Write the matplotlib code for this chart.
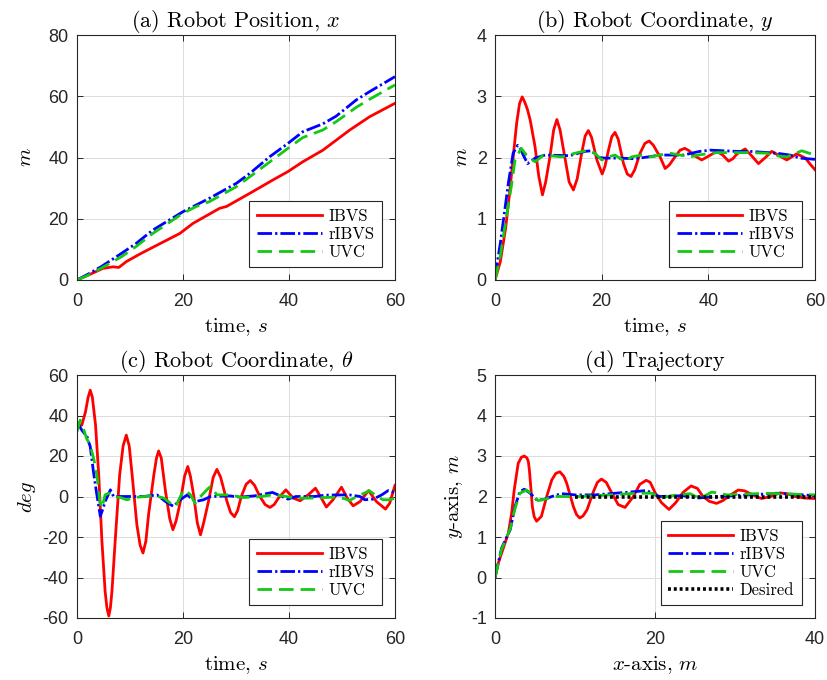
import matplotlib
matplotlib.use("Agg")
import matplotlib.pyplot as plt

# ---------------- data ----------------
# (a) robot position x [m] vs time [s]
t_a_ibvs = [0, 2.4, 4.9, 6.8, 7.9, 9.3, 12.1, 14.0, 19.4, 21.9, 26.9, 28.2, 32.6, 37.0, 39.8, 42.6, 46.4, 51.4, 55.2, 60]
x_ibvs = [0, 1.8, 3.8, 4.3, 4.1, 6.0, 8.7, 10.4, 15.2, 18.5, 23.4, 24.0, 28.3, 32.7, 35.4, 38.6, 42.4, 48.9, 53.3, 57.7]
t_a_ribvs = [0, 2.4, 4.6, 8.4, 11.2, 14.3, 20, 22.5, 25, 30.1, 32.6, 36.4, 39.8, 42.6, 46.4, 48.9, 52.7, 55.2, 60]
x_ribvs = [0, 2.2, 4.4, 8.7, 12.0, 16.3, 22.3, 24.5, 26.7, 31.6, 34.8, 40.3, 44.6, 48.4, 51.0, 53.5, 58.8, 61.5, 66.4]
t_a_uvc = [0, 2.4, 4.6, 8.4, 11.2, 14.3, 20, 22.5, 25, 30.1, 32.6, 36.4, 39.8, 42.6, 46.4, 48.9, 52.7, 55.2, 60]
x_uvc = [0, 1.8, 3.9, 7.6, 11.0, 15.2, 21.8, 24.0, 25.6, 30.5, 33.7, 38.6, 43.0, 46.5, 49.0, 51.7, 56.4, 59.0, 63.7]

# (b) robot coordinate y [m] vs time [s]
t_b_ibvs = [0, 1, 2, 2.8, 3.4, 4.06, 4.6, 5.1, 5.6, 6.1, 6.6, 7.5, 8.2, 8.9, 9.5, 10.3, 11.0, 11.6, 12.2,
            13.1, 13.9, 14.7, 15.4, 16.25, 16.9, 17.5, 18.1, 19.1, 20.1, 20.6, 21.25, 21.9, 22.5, 23.1,
            24.1, 24.8, 25.5, 26.2, 27.2, 28.1, 28.9, 29.7, 31.0, 31.9, 32.7, 33.75, 34.7, 35.6, 36.4,
            37.2, 38.75, 40.2, 41.6, 42.7, 43.8, 44.6, 45.4, 46.9, 48.2, 49.4, 50.7, 51.9, 53.3, 54.7,
            56.6, 58.2, 59.2, 60]
y_ibvs = [0, 0.3, 0.85, 1.47, 2.0, 2.56, 2.88, 2.99, 2.9, 2.78, 2.61, 2.18, 1.7, 1.39, 1.6, 2.01, 2.45, 2.62, 2.45,
          2.0, 1.6, 1.47, 1.65, 2.07, 2.35, 2.44, 2.33, 1.96, 1.73, 1.85, 2.11, 2.34, 2.41, 2.3,
          1.9, 1.73, 1.69, 1.8, 2.07, 2.23, 2.27, 2.2, 2.0, 1.82, 1.88, 2.01, 2.12, 2.15, 2.11,
          2.04, 1.96, 2.03, 2.1, 2.04, 1.94, 1.98, 2.06, 2.14, 2.02, 1.9, 2.0, 2.1, 2.03, 1.96,
          2.06, 1.99, 1.88, 1.80]
t_b_ribvs = [0, 1, 2, 2.5, 3.4, 4.25, 4.8, 5.3, 6.1, 6.8, 7.5, 9.4, 14, 16.9, 18.1, 19.4, 20.6, 23.1, 26.25,
             28.75, 31, 35.3, 38.4, 40.3, 45.3, 47.8, 52.8, 55.3, 57.2, 60]
y_ribvs = [0.05, 0.6, 1.25, 1.58, 2.07, 2.2, 2.14, 2.04, 1.9, 1.94, 1.99, 2.04, 2.03, 2.1, 2.11, 2.0, 1.99, 1.99, 1.98,
           2.01, 2.04, 2.04, 2.1, 2.12, 2.1, 2.1, 2.07, 2.04, 1.99, 1.97]
t_b_uvc = [0, 1, 2, 3.1, 3.75, 4.9, 5.9, 7.5, 9.1, 12.5, 15, 17.5, 18.75, 20, 21.25, 22.5, 24.4, 25.6, 27.5,
           29.1, 32.8, 36.6, 38.1, 41.6, 47.8, 50.9, 52.8, 54.7, 57.5, 60]
y_uvc = [0, 0.4, 0.95, 1.55, 1.96, 2.15, 2.04, 1.93, 2.04, 2.01, 2.07, 2.12, 2.07, 1.96, 2.01, 2.04, 1.93, 2.01, 2.04,
         2.01, 2.07, 2.01, 2.04, 2.08, 2.08, 2.07, 2.03, 2.01, 2.11, 2.04]

# (c) robot heading theta [deg] vs time [s]
t_c_ibvs = [0, 0.9, 1.6, 2.1, 2.5, 2.9, 3.5, 4.1, 4.7, 5.3, 5.65, 6.0, 6.3, 6.6, 7.2, 8.05, 8.7, 9.3, 9.85,
            10.4, 11.3, 11.9, 12.45, 13.0, 13.5, 14.5, 15.0, 15.4, 15.9, 16.7, 17.5, 18.1, 18.7, 19.5,
            20.3, 20.9, 21.4, 22.0, 22.7, 23.3, 23.9, 24.8, 25.7, 26.4, 27.1, 28.3, 29.0, 29.7, 30.3,
            31.0, 31.9, 32.7, 33.5, 34.5, 35.5, 36.4, 37.2, 38.0, 39.4, 40.8, 42.1, 43.6, 45.0, 46.1,
            47.05, 48.3, 49.9, 51.0, 52.1, 53.4, 55.0, 56.5, 58.2, 59.0, 60]
th_ibvs = [35.2, 35.2, 41.8, 49, 52.5, 49, 35.2, 10.7, -22, -46.7, -55, -59, -55, -46.7, -22, 10.7, 25, 30.3, 25,
           10.7, -14, -24, -27.9, -22, -9, 10.7, 19, 22.5, 19, 2.5, -11, -16.4, -12, -2.5,
           10, 14.8, 10, 0.8, -13, -18.9, -13, -2.5, 9.5, 13.4, 9.5, -2.5, -8, -10, -7,
           0, 6, 7.9, 5.5, 0, -4, -5.4, -4, -0.8, 3.3, -0.8, -2.1, 0.8, 4.1, -0.8,
           -5.2, -1.6, 4.6, -0.8, -4.6, -2.5, 2.9, -2.5, -6.2, -3.3, 5.5]
t_c_ribvs = [0, 0.9, 1.9, 2.5, 3.1, 3.65, 4.4, 4.9, 5.3, 6.3, 6.9, 8.2, 12.6, 15.1, 16.7, 18.2, 19.5, 20.8,
             22.3, 23.9, 25.2, 28.8, 30.7, 33.5, 36.9, 39.8, 41.3, 44.8, 47, 51.4, 53.4, 54.3, 55.9,
             57.5, 58.7, 60]
th_ribvs = [36.9, 32.8, 29.5, 24.6, 12.3, 2.5, -9.8, -6, -2.5, 3.3, 0, 0, 0, 0.8, -2.5, -4.9, -1.6, 0.8,
            -2.5, -1.6, 0, 0.3, -0.3, 0.3, 2.0, -1.3, 0, 0, 0.7, 0.8, 0, -1.6, -1.3,
            0.8, 2.9, 2.0]
t_c_uvc = [0, 0.6, 1.3, 1.8, 2.5, 3.5, 3.9, 4.3, 4.7, 5.3, 6.0, 6.9, 8.2, 9.4, 11, 14.5, 16.4, 17.6, 18.6,
           19.8, 20.4, 21.4, 22.3, 23.3, 24.8, 25.2, 26.4, 28.8, 31.3, 33.8, 36.9, 38.8, 41.3, 43.8,
           47, 48.9, 50.5, 51.4, 53, 55.2, 56.5, 57.7, 59, 60]
th_uvc = [32, 37.7, 32.8, 28.7, 25.4, 14.8, 7.4, -2.5, -5.7, 0.8, 1.6, 0, -0.5, -1.6, -0.5, 0.5, -0.8, -3.3, -4.9,
          1.6, 3.3, 0.8, -3.3, 0, 4.1, 4.9, 0.8, 0.8, -0.5, -0.3, 0.8, 0.3, -0.8, -0.8,
          -0.5, -0.3, -1.1, -2.0, 0.3, 2.8, 0.3, -1.6, -1.6, -0.8]

# (d) trajectory in the plane: x-axis [m] vs y-axis [m]
px_ibvs = [0, 0.4, 0.83, 1.67, 2.08, 2.4, 2.9, 3.3, 3.67, 4.0, 4.17, 4.3, 4.4, 4.67, 4.9, 5.2, 5.8, 6.46, 7.1,
           7.6, 8.1, 8.6, 8.96, 9.8, 10.2, 10.6, 11.0, 11.5, 12.3, 12.8, 13.3, 13.9, 14.4, 15.4, 16.25,
           17.3, 18.1, 18.9, 19.4, 20.0, 20.8, 21.75, 22.6, 23.5, 24.5, 25.3, 26.0, 26.8, 27.7, 28.5,
           29.3, 30.4, 31.2, 32.3, 33.3, 34.5, 35.6, 36.5, 37.5, 38.8, 40]
py_ibvs = [0, 0.35, 0.6, 1.1, 1.59, 2.16, 2.82, 2.97, 3.0, 2.95, 2.86, 2.65, 2.41, 1.75, 1.5, 1.39, 1.51, 2.0, 2.41,
           2.57, 2.61, 2.5, 2.33, 1.75, 1.55, 1.47, 1.52, 1.67, 2.12, 2.35, 2.43, 2.35, 2.16, 1.8, 1.73,
           2.0, 2.3, 2.4, 2.35, 2.1, 1.85, 1.68, 1.85, 2.1, 2.26, 2.2, 2.0, 1.88, 1.83, 1.9,
           2.02, 2.16, 2.14, 2.03, 1.95, 2.0, 2.09, 2.07, 2.0, 1.96, 1.95]
px_ribvs = [0, 0.83, 1.9, 2.5, 3.1, 3.67, 4.4, 5.2, 6.0, 7.1, 8.3, 10, 12.5, 15, 17.5, 19, 20, 20.6, 23.5,
            25.2, 27.7, 31.9, 35.2, 40]
py_ribvs = [0, 0.73, 1.18, 1.75, 2.12, 2.18, 2.08, 1.92, 1.92, 2.0, 2.07, 2.04, 2.04, 2.08, 2.12, 2.15, 2.04, 2.0, 2.02,
            1.96, 2.0, 2.04, 2.08, 2.02]
px_uvc = [0, 0.83, 1.9, 2.5, 3.1, 3.96, 4.6, 5.4, 6.2, 7.3, 10.4, 14.6, 17.5, 19.6, 20, 20.6, 22.7, 24.4, 25.6,
          27.1, 29, 34, 40]
py_uvc = [0, 0.7, 1.2, 1.7, 2.08, 2.16, 2.05, 1.9, 1.93, 2.0, 2.0, 2.04, 2.08, 2.08, 2.04, 1.96, 2.04, 2.07, 1.95,
          2.11, 2.04, 2.08, 2.04]
px_desired = [10, 40]
py_desired = [2, 2]

# ---------------- style ----------------
plt.rcParams["mathtext.fontset"] = "cm"
plt.rcParams["axes.unicode_minus"] = False
plt.rcParams["lines.scale_dashes"] = False

RED = "#ff0000"
BLUE = "#0000ff"
GREEN = "#14c814"
LW = 2.0
STY = {
    "IBVS": dict(color=RED, lw=LW, ls="-"),
    "rIBVS": dict(color=BLUE, lw=LW, dashes=(10.5, 2.2, 1.6, 2.2)),
    "UVC": dict(color=GREEN, lw=LW, dashes=(10.5, 5.0)),
    "Desired": dict(color="black", lw=2.6, dashes=(2.1, 2.1)),
}

W, H = 827, 680
fig = plt.figure(figsize=(W / 100, H / 100), dpi=100)


def add_ax(l, t, r, b):
    return fig.add_axes([l / W, 1 - b / H, (r - l) / W, (b - t) / H])


def style(ax, xlim, xticks, ylim, yticks, title, xlabel, ylabel, ylabelpad):
    ax.set_xlim(*xlim)
    ax.set_ylim(*ylim)
    ax.set_xticks(xticks)
    ax.set_yticks(yticks)
    ax.grid(True, color="#dcdcdc", lw=0.7)
    ax.set_axisbelow(True)
    ax.tick_params(direction="in", top=True, right=True, length=4, width=0.7,
                   labelsize=13, colors="#262626")
    ax.tick_params(axis="x", pad=9)
    ax.tick_params(axis="y", pad=6)
    for lab in ax.get_xticklabels() + ax.get_yticklabels():
        lab.set_fontfamily("Liberation Sans")
    for s in ax.spines.values():
        s.set_color("#262626")
        s.set_linewidth(0.8)
    ax.set_title(title, fontfamily="cmr10", fontsize=16, pad=6)
    ax.set_xlabel(xlabel, fontfamily="cmr10", fontsize=15, labelpad=5)
    ax.set_ylabel(ylabel, fontfamily="cmr10", fontsize=15, labelpad=ylabelpad)


def legend(ax):
    leg = ax.legend(loc="lower right", bbox_to_anchor=(0.959, 0.053), borderaxespad=0,
                    prop={"family": "cmr10", "size": 12}, handlelength=3.9, handletextpad=0.4,
                    labelspacing=0.15, borderpad=0.45, fancybox=False, framealpha=1,
                    edgecolor="#262626")
    leg.get_frame().set_linewidth(0.8)


ax_a = add_ax(77, 35, 395, 280)
ax_b = add_ax(495, 35, 815, 280)
ax_c = add_ax(77, 375, 395, 618)
ax_d = add_ax(495, 375, 815, 618)

# (a)
ax_a.plot(t_a_ibvs, x_ibvs, label="IBVS", **STY["IBVS"])
ax_a.plot(t_a_ribvs, x_ribvs, label="rIBVS", **STY["rIBVS"])
ax_a.plot(t_a_uvc, x_uvc, label="UVC", **STY["UVC"])
style(ax_a, (0, 60), [0, 20, 40, 60], (0, 80), [0, 20, 40, 60, 80],
      "(a) Robot Position, $x$", "time, $s$", "$m$", 10)
legend(ax_a)

# (b)
ax_b.plot(t_b_ibvs, y_ibvs, label="IBVS", **STY["IBVS"])
ax_b.plot(t_b_ribvs, y_ribvs, label="rIBVS", **STY["rIBVS"])
ax_b.plot(t_b_uvc, y_uvc, label="UVC", **STY["UVC"])
style(ax_b, (0, 60), [0, 20, 40, 60], (0, 4), [0, 1, 2, 3, 4],
      "(b) Robot Coordinate, $y$", "time, $s$", "$m$", 4)
legend(ax_b)

# (c)
ax_c.plot(t_c_ibvs, th_ibvs, label="IBVS", **STY["IBVS"])
ax_c.plot(t_c_ribvs, th_ribvs, label="rIBVS", **STY["rIBVS"])
ax_c.plot(t_c_uvc, th_uvc, label="UVC", **STY["UVC"])
style(ax_c, (0, 60), [0, 20, 40, 60], (-60, 60), [-60, -40, -20, 0, 20, 40, 60],
      r"(c) Robot Coordinate, $\theta$", "time, $s$", "$deg$", 3)
legend(ax_c)

# (d)
ax_d.plot(px_ibvs, py_ibvs, label="IBVS", **STY["IBVS"])
ax_d.plot(px_ribvs, py_ribvs, label="rIBVS", **STY["rIBVS"])
ax_d.plot(px_uvc, py_uvc, label="UVC", **STY["UVC"])
ax_d.plot(px_desired, py_desired, label="Desired", **STY["Desired"])
style(ax_d, (0, 40), [0, 20, 40], (-1, 5), [-1, 0, 1, 2, 3, 4, 5],
      "(d) Trajectory", "$x$-axis, $m$", "$y$-axis, $m$", 4)
legend(ax_d)

fig.savefig("out.png", dpi=100)
